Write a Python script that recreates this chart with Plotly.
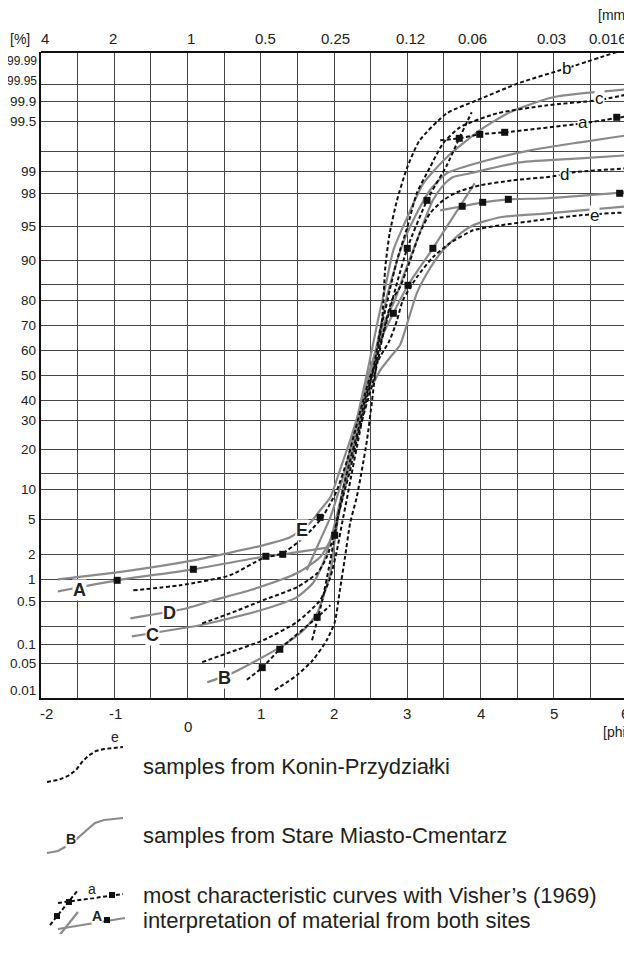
import numpy as np
import plotly.graph_objects as go

# ---------------- probability-paper axis definition (as printed) ----------------
SCALE_PCT = [0.01, 0.05, 0.1, 0.5, 1, 2, 5, 10, 20, 30, 40, 50, 60, 70, 80, 90, 95, 98, 99, 99.5, 99.9, 99.95, 99.99]
SCALE_POS = [0, 34.7, 53.7, 96.7, 118.7, 143.7, 178.7, 208.7, 248.7, 277.7, 297.7, 322.7, 347.7, 372.7,
             397.7, 437.7, 471.7, 504.7, 526.7, 576.7, 596.7, 613.7, 646]


def prob(p):
    return np.interp(np.asarray(p, dtype=float), SCALE_PCT, SCALE_POS)


Y_LABELS = ['0.01', '0.05', '0.1', '0.5', '1', '2', '5', '10', '20', '30', '40', '50', '60', '70', '80',
            '90', '95', '98', '99', '99.5', '99.9', '99.95', '99.99']
Y_GRID_EXTRA = [0.267, 14, 84, 99.2]
PHI_TICKS = [-2, -1, 0, 1, 2, 3, 4, 5, 6]
MM_LABELS = ['4', '2', '1', '0.5', '0.25', '0.12', '0.06', '0.03', '0.016']

# ---------------- Konin-Przydzialki (dashed) ----------------
KONIN_B_PHI = [1.19, 1.49, 1.71, 1.90, 2.01, 2.08, 2.15, 2.22, 2.31, 2.38, 2.45, 2.52, 2.56, 2.60, 2.66, 2.70,
               2.76, 2.86, 3.00, 3.17, 3.54, 3.95, 4.54, 5.18, 5.86]
KONIN_B_PCT = [0.019, 0.036, 0.058, 0.137, 0.305, 0.75, 1.88, 4.66, 8.67, 14.75, 23.1, 40, 50, 60, 73.2, 88.25,
               93.97, 97.36, 99.04, 99.31, 99.66, 99.903, 99.952, 99.97, 99.99]

KONIN_C_PHI = [0.20, 0.58, 1.03, 1.49, 1.81, 1.95, 2.04, 2.11, 2.18, 2.25, 2.33, 2.41, 2.49, 2.56, 2.63, 2.70,
               2.76, 2.86, 3.00, 3.13, 3.31, 3.49, 3.72, 4.23, 4.91, 5.59, 6.00]
KONIN_C_PCT = [0.053, 0.079, 0.137, 0.305, 0.523, 1.08, 2.34, 4.66, 8.67, 14.75, 23.1, 35, 46, 56, 68, 76,
               82.5, 90, 94.85, 98, 99.04, 99.28, 99.44, 99.66, 99.82, 99.903, 99.92]

KONIN_D_PHI = [0.20, 0.58, 1.03, 1.49, 1.77, 1.90, 1.99, 2.05, 2.12, 2.22, 2.31, 2.42, 2.52, 2.60, 2.68, 2.79,
               2.90, 3.04, 3.17, 3.31, 3.49, 3.68, 3.99, 4.44, 4.99, 5.26, 6.00]
KONIN_D_PCT = [0.295, 0.388, 0.523, 0.818, 1.24, 1.88, 3.46, 5.33, 8.67, 14.75, 23.1, 35, 46, 56, 68, 80,
               83.25, 90, 93.97, 96.18, 97.36, 98.05, 98.36, 98.59, 98.77, 98.95, 99.03]

KONIN_E_PHI = [-0.74, -0.10, 0.58, 1.03, 1.30, 1.54, 1.71, 1.84, 1.95, 2.04, 2.18, 2.29, 2.40, 2.50, 2.64, 2.76,
               2.86, 2.94, 3.13, 3.35, 3.58, 3.90, 4.27, 5.36, 6.00]
KONIN_E_PCT = [0.75, 0.864, 1.16, 1.84, 2.09, 3.2, 4.23, 5.33, 7.67, 9.83, 17.25, 26.6, 40, 50, 58, 64,
               72, 80, 85.75, 90.44, 92.5, 94.41, 95.09, 96, 96.27]

# curve "a" (Visher interpretation, three segments)
A_LOW_STEEP_PHI = [1.70, 1.84, 1.95, 2.01, 2.12, 2.22, 2.33, 2.42, 2.52, 2.63, 2.76, 2.87, 3.00, 3.27, 3.54, 3.71, 3.88]
A_LOW_STEEP_PCT = [0.137, 0.523, 1.76, 3.63, 9.83, 17.25, 26.6, 40, 50, 62, 76, 85, 91.76, 97.36, 99.06, 99.33, 99.68]
A_LOW_TOP_PHI = [3.45, 3.71, 3.99, 4.33, 5.40, 6.00]
A_LOW_TOP_PCT = [99.31, 99.33, 99.37, 99.39, 99.48, 99.6]
A_LOW_BOT_PHI = [0.81, 1.02, 1.26, 1.77, 1.95]
A_LOW_BOT_PCT = [0.031, 0.045, 0.087, 0.351, 0.463]
A_LOW_MARK_PHI = [1.02, 1.26, 1.77, 2.01, 1.81, 3.00, 3.27, 3.71, 3.99, 4.33, 5.86]
A_LOW_MARK_PCT = [0.045, 0.087, 0.351, 3.63, 5.33, 91.76, 97.36, 99.33, 99.37, 99.39, 99.58]

# ---------------- Stare Miasto-Cmentarz (gray) ----------------
SM_B_PHI = [0.27, 0.62, 1.26, 1.58, 1.77, 1.85, 1.95, 2.01, 2.08, 2.15, 2.22, 2.31, 2.40, 2.46, 2.53, 2.60,
            2.70, 2.81, 3.00, 3.22, 3.54, 3.99, 4.40, 4.99, 6.00]
SM_B_PCT = [0.028, 0.039, 0.092, 0.23, 0.388, 0.59, 1.24, 3.2, 7.0, 12.25, 19.75, 30, 44, 52, 62, 72,
            83.25, 91.47, 95.82, 98.45, 99.14, 99.41, 99.68, 99.912, 99.935]

SM_C_PHI = [-0.76, 0.17, 0.58, 1.09, 1.49, 1.71, 1.85, 1.95, 2.04, 2.15, 2.25, 2.35, 2.44, 2.52, 2.60, 2.72,
            2.81, 2.94, 3.13, 3.31, 3.54, 3.99, 4.68, 5.36, 6.00]
SM_C_PCT = [0.174, 0.277, 0.342, 0.435, 0.59, 0.909, 1.64, 3.2, 5.67, 12.25, 19.75, 32.5, 44, 54, 64, 80.75,
            86.75, 92.5, 96.18, 98.14, 98.91, 99.09, 99.21, 99.29, 99.36]

SM_D_PHI = [-0.78, -0.01, 0.35, 0.85, 1.49, 1.81, 1.95, 2.04, 2.11, 2.22, 2.31, 2.41, 2.49, 2.57, 2.67, 2.83,
            2.94, 3.08, 3.22, 3.35, 3.49, 3.62, 3.86, 4.54, 5.36, 6.00]
SM_D_PCT = [0.342, 0.435, 0.523, 0.75, 1.24, 1.88, 3.2, 4.91, 8.17, 16.0, 24.8, 37.5, 48, 58, 70, 80,
            85.75, 91.47, 95.27, 97.36, 98.36, 98.73, 98.91, 99.09, 99.13, 99.16]

SM_E_PHI = [-1.77, -0.96, 0.08, 1.03, 1.40, 1.67, 1.81, 1.95, 2.08, 2.22, 2.35, 2.49, 2.63, 2.79, 2.90, 3.00,
            3.13, 3.27, 3.45, 3.68, 3.90, 4.27, 4.91, 6.00]
SM_E_PCT = [1.0, 1.28, 1.76, 2.77, 3.46, 4.66, 6.5, 8.67, 14.75, 23.1, 35, 44, 52, 58, 62, 70.8,
            81.75, 86.75, 91.0, 93.53, 95.09, 95.82, 96.18, 96.82]

# curve "A" (Visher interpretation, three segments)
A_UP_LEFT_PHI = [-1.77, -0.96, 0.08, 1.07, 1.30, 1.92]
A_UP_LEFT_PCT = [0.727, 0.977, 1.4, 1.92, 2.0, 2.6]
A_UP_STEEP_PHI = [1.63, 1.81, 1.95, 2.04, 2.15, 2.25, 2.35, 2.45, 2.59, 2.81, 3.01, 3.35, 3.92]
A_UP_STEEP_PCT = [1.36, 3.2, 5.33, 8.67, 14.75, 23.1, 35, 48, 61.2, 74.8, 83.75, 91.76, 98.45]
A_UP_RIGHT_PHI = [3.45, 3.75, 4.03, 4.38, 4.91, 6.00]
A_UP_RIGHT_PCT = [96.45, 96.82, 97.18, 97.45, 97.55, 98.05]
A_UP_MARK_PHI = [-0.96, 0.08, 1.07, 1.30, 2.81, 3.01, 3.35, 3.75, 4.03, 4.38, 5.90]
A_UP_MARK_PCT = [0.977, 1.4, 1.92, 2.0, 74.8, 83.75, 91.76, 96.82, 97.18, 97.45, 98.0]

# curve letters: (text, phi, pct)
LOWER_LABELS = [('b', 5.18, 99.97), ('c', 5.63, 99.909), ('a', 5.40, 99.49), ('d', 5.15, 98.86), ('e', 5.56, 96.0)]
UPPER_LABELS = [('A', -1.48, 0.76), ('B', 0.51, 0.033), ('C', -0.48, 0.184), ('D', -0.24, 0.388), ('E', 1.56, 4.1)]

LEGEND_TEXT = ['samples from Konin-Przydziałki', 'samples from Stare Miasto-Cmentarz',
               'most characteristic curves with Visher\u2019s (1969)', 'interpretation of material from both sites']

# ---------------- styling ----------------
OFF = 8                      # the page body margin offsets the figure by 8 px
W, H = 624, 926              # keep the page shorter than the window (no scrollbar)
ML, MR, MT = 33, 5, 44
PW, PH = W - ML - MR, 646
MB = H - MT - PH
GRAY = '#8a8a8a'
BLACK = '#111111'
GRID = '#454545'
TICKF = 'Liberation Sans, Arial, sans-serif'
SANS = 'Liberation Sans, Arial, sans-serif'
DASH = '4px,2.5px'


def px(x):
    return (x - OFF - ML) / PW


def py(y):
    return (H - MB - (y - OFF)) / PH


fig = go.Figure()


def add_line(phi, pct, color, dash=None, width=2.0):
    fig.add_trace(go.Scatter(x=phi, y=prob(pct), mode='lines', hoverinfo='skip',
                             line=dict(color=color, width=width, dash=dash, shape='spline', smoothing=0.6)))


for phi, pct in [(SM_B_PHI, SM_B_PCT), (SM_C_PHI, SM_C_PCT), (SM_D_PHI, SM_D_PCT), (SM_E_PHI, SM_E_PCT),
                 (A_UP_LEFT_PHI, A_UP_LEFT_PCT), (A_UP_STEEP_PHI, A_UP_STEEP_PCT), (A_UP_RIGHT_PHI, A_UP_RIGHT_PCT)]:
    add_line(phi, pct, GRAY, None, 2.2)

for phi, pct in [(KONIN_B_PHI, KONIN_B_PCT), (KONIN_C_PHI, KONIN_C_PCT), (KONIN_D_PHI, KONIN_D_PCT),
                 (KONIN_E_PHI, KONIN_E_PCT), (A_LOW_STEEP_PHI, A_LOW_STEEP_PCT), (A_LOW_TOP_PHI, A_LOW_TOP_PCT),
                 (A_LOW_BOT_PHI, A_LOW_BOT_PCT)]:
    add_line(phi, pct, BLACK, DASH, 2.0)

for phi, pct in [(A_UP_MARK_PHI, A_UP_MARK_PCT), (A_LOW_MARK_PHI, A_LOW_MARK_PCT)]:
    fig.add_trace(go.Scatter(x=phi, y=prob(pct), mode='markers', hoverinfo='skip',
                             marker=dict(symbol='square', size=7, color=BLACK, line=dict(width=0))))

ann = []
for t, ph, pc in LOWER_LABELS:
    ann.append(dict(x=ph, y=float(prob(pc)), xref='x', yref='y', text=t, showarrow=False,
                    font=dict(family=SANS, size=17, color=BLACK), bgcolor='white', borderpad=0))
for t, ph, pc in UPPER_LABELS:
    ann.append(dict(x=ph, y=float(prob(pc)), xref='x', yref='y', text='<b>%s</b>' % t, showarrow=False,
                    font=dict(family=SANS, size=18, color='#222'), bgcolor='white', borderpad=0))

# y tick labels
for lab in Y_LABELS:
    v = float(lab)
    ys = {'99.99': -9, '99.95': 3, '0.01': 8}.get(lab, 0)
    long_lab = len(lab) >= 5
    ann.append(dict(x=0, y=float(prob(v)), xref='paper', yref='y', text=lab, showarrow=False,
                    xanchor='right', yanchor='middle', xshift=-2 if long_lab else -3, yshift=ys,
                    font=dict(family=TICKF, size=12 if long_lab else 13.5, color='#222')))
# bottom phi labels
for v in PHI_TICKS:
    xs = {-2: 5, -1: 1, 6: -2}.get(v, 0)
    ys = -18 if v == 0 else -5
    ann.append(dict(x=v, y=0, xref='x', yref='paper', text=str(v), showarrow=False, xanchor='center',
                    yanchor='top', xshift=xs, yshift=ys, font=dict(family=TICKF, size=15, color='#222')))
# top mm labels
MM_SHIFT = [4, -1, 3, 5, 1, 3, -8, -2, -19]
for v, lab, s in zip(PHI_TICKS, MM_LABELS, MM_SHIFT):
    ann.append(dict(x=v, y=1, xref='x', yref='paper', text=lab, showarrow=False, xanchor='center',
                    yanchor='bottom', xshift=s, yshift=3, font=dict(family=TICKF, size=15, color='#222')))
for t, x, y, xa in [('[%]', 20, 39, 'center'), ('[mm]', 631, 15, 'right'), ('[phi]', 631, 732, 'right')]:
    ann.append(dict(x=px(x), y=py(y), xref='paper', yref='paper', text=t, showarrow=False, xanchor=xa,
                    yanchor='middle', font=dict(family=TICKF, size=14, color='#222')))

# legend texts
for t, y in zip(LEGEND_TEXT, [767, 835, 895, 920]):
    ann.append(dict(x=px(141), y=py(y), xref='paper', yref='paper', text=t, showarrow=False, xanchor='left',
                    yanchor='middle', font=dict(family=SANS, size=22, color='#231f20')))
# legend glyph letters
for t, x, y, b in [('e', 110, 746, False), ('B', 65, 848, True), ('a', 87, 898, False), ('A', 91, 925, True)]:
    ann.append(dict(x=px(x), y=py(y), xref='paper', yref='paper', text=('<b>%s</b>' % t) if b else t,
                    showarrow=False, font=dict(family=SANS, size=14, color='#222'), bgcolor='white', borderpad=0))

shapes = []


def pth(pts):
    return 'M ' + ' L '.join('%.4f,%.4f' % (px(x), py(y)) for x, y in pts)


def add_path(pts, color, dash, width):
    shapes.append(dict(type='path', xref='paper', yref='paper', path=pth(pts), layer='below',
                       line=dict(color=color, width=width, dash=dash)))


# legend glyphs
add_path([(47, 782), (58, 780), (68, 776), (76, 770), (82, 762), (88, 756), (96, 751), (104, 749), (123, 747)],
         BLACK, DASH, 2)
add_path([(47, 853), (58, 851), (72, 843), (88, 829), (95, 823), (104, 820), (123, 818)], GRAY, None, 2.2)
add_path([(50, 925), (78, 890)], BLACK, DASH, 2)
add_path([(58, 903), (123, 894)], BLACK, DASH, 2)
add_path([(54, 942), (78, 912)], GRAY, None, 2.2)
add_path([(58, 929), (125, 918)], GRAY, None, 2.2)
for x, y in [(57, 916), (69, 902), (112, 895), (57, 937), (107, 920)]:
    shapes.append(dict(type='rect', xref='paper', yref='paper', x0=px(x - 3), x1=px(x + 3), y0=py(y + 3),
                       y1=py(y - 3), fillcolor=BLACK, line=dict(width=0)))

fig.update_layout(
    width=W, height=H, margin=dict(l=ML, r=MR, t=MT, b=MB), paper_bgcolor='white', plot_bgcolor='white',
    showlegend=False, annotations=ann, shapes=shapes,
    xaxis=dict(range=[-2, 6], tickvals=[v / 2 for v in range(-4, 12)], showticklabels=False, ticks='',
               showgrid=True, gridcolor=GRID, gridwidth=1.3, zeroline=False, showline=True, linecolor=BLACK,
               linewidth=2, mirror=False, fixedrange=True),
    yaxis=dict(range=[0, PH], tickvals=list(prob([float(v) for v in Y_LABELS[1:-1]] + Y_GRID_EXTRA)),
               showticklabels=False, ticks='', showgrid=True, gridcolor=GRID, gridwidth=1.3, zeroline=False,
               showline=True, linecolor=BLACK, linewidth=2, fixedrange=True),
)
# top border
fig.add_shape(type='line', xref='paper', yref='paper', x0=0, x1=1, y0=1, y1=1, line=dict(color=BLACK, width=2))

fig.write_html('out.html')
